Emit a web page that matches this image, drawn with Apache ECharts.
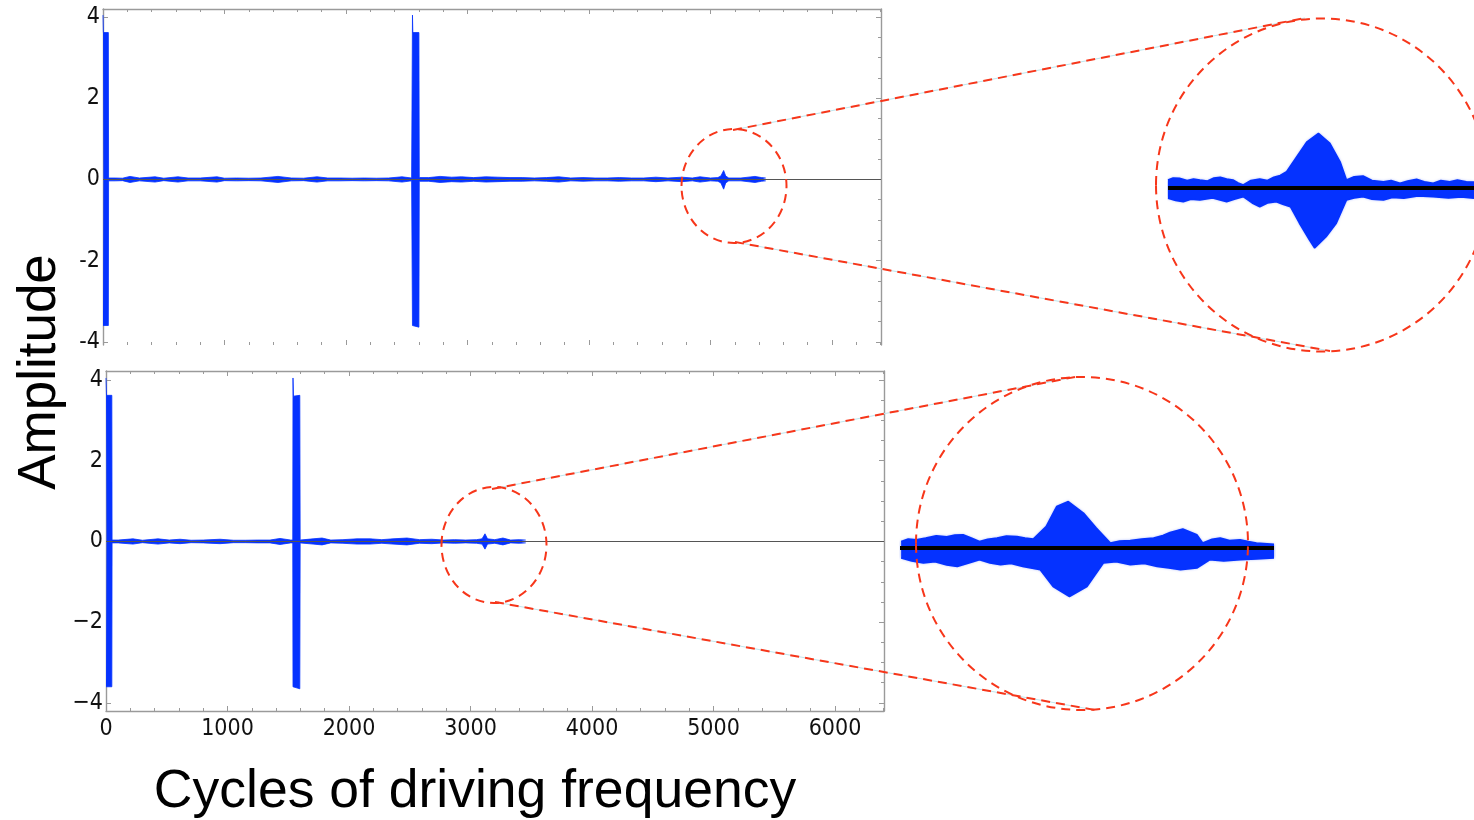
<!DOCTYPE html>
<html>
<head>
<meta charset="utf-8">
<script src="https://cdn.jsdelivr.net/npm/echarts@6/dist/echarts.min.js"></script>
<style>
  html, body { margin: 0; padding: 0; background: #fff; }
  #chart { width: 1474px; height: 820px; }
</style>
</head>
<body>
<div id="chart"></div>
<script>
// ---------------- data ----------------
const xTickLabels = [0, 1000, 2000, 3000, 4000, 5000, 6000];
const yTickLabels = [-4, -2, 0, 2, 4];

// Upper panel: envelope of the recorded amplitude (cycles -> max / min)
const runACycles = [0, 3, 44, 46, 100, 160, 222, 300, 428, 500, 617, 700, 800, 938,
  1000, 1100, 1200, 1300, 1440, 1550, 1650, 1761, 1850, 1950,
  2050, 2150, 2250, 2350, 2461, 2540, 2545, 2547, 2550, 2600,
  2603, 2680, 2774, 2870, 2950, 3050, 3150, 3250, 3350, 3450,
  3550, 3650, 3750, 3850, 3950, 4050, 4150, 4250, 4350, 4450,
  4550, 4650, 4765, 4850, 4913, 5000, 5060, 5085, 5108, 5125,
  5150, 5250, 5366, 5420, 5455];
const runAMax = [4.05, 3.62, 3.62, 0.035, 0.035, 0.03, 0.075, 0.035, 0.065, 0.03, 0.065, 0.035, 0.035, 0.065,
  0.03, 0.035, 0.03, 0.035, 0.075, 0.035, 0.03, 0.065, 0.035, 0.035,
  0.03, 0.035, 0.03, 0.035, 0.065, 0.035, 0.035, 4.05, 3.62, 3.62,
  0.045, 0.045, 0.075, 0.055, 0.065, 0.045, 0.065, 0.055, 0.045, 0.045,
  0.035, 0.045, 0.065, 0.035, 0.045, 0.035, 0.035, 0.045, 0.035, 0.035,
  0.055, 0.035, 0.055, 0.035, 0.065, 0.035, 0.045, 0.085, 0.22, 0.085,
  0.035, 0.035, 0.075, 0.045, 0.035];
const runAMin = [-3.6, -3.6, -3.6, -0.035, -0.035, -0.03, -0.075, -0.035, -0.065, -0.03, -0.065, -0.035, -0.035, -0.065,
  -0.03, -0.035, -0.03, -0.035, -0.075, -0.035, -0.03, -0.065, -0.035, -0.035,
  -0.03, -0.035, -0.03, -0.035, -0.065, -0.035, -0.035, -3.6, -3.6, -3.64,
  -0.045, -0.045, -0.075, -0.055, -0.065, -0.045, -0.065, -0.055, -0.045, -0.045,
  -0.035, -0.045, -0.065, -0.035, -0.045, -0.035, -0.035, -0.045, -0.035, -0.035,
  -0.055, -0.035, -0.055, -0.035, -0.065, -0.035, -0.045, -0.085, -0.24, -0.085,
  -0.035, -0.035, -0.075, -0.045, -0.035];

// Lower panel
const runBCycles = [0, 4, 48, 50, 100, 222, 300, 428, 520, 609, 700, 800, 938, 1050,
  1150, 1250, 1350, 1432, 1520, 1537, 1539, 1543, 1595, 1598,
  1704, 1778, 1850, 1950, 2066, 2173, 2270, 2362, 2477, 2580,
  2680, 2780, 2870, 2960, 3050, 3095, 3119, 3140, 3200, 3267,
  3330, 3400, 3455];
const runBMax = [4.05, 3.62, 3.62, 0.035, 0.035, 0.065, 0.03, 0.065, 0.035, 0.055, 0.03, 0.035, 0.055, 0.03,
  0.03, 0.035, 0.035, 0.075, 0.035, 0.035, 4.05, 3.60, 3.62, 0.035,
  0.065, 0.085, 0.035, 0.045, 0.065, 0.065, 0.045, 0.065, 0.085, 0.045,
  0.055, 0.035, 0.045, 0.035, 0.045, 0.065, 0.19, 0.065, 0.045, 0.085,
  0.035, 0.045, 0.035];
const runBMin = [-3.6, -3.6, -3.6, -0.035, -0.035, -0.065, -0.03, -0.065, -0.035, -0.055, -0.03, -0.035, -0.055, -0.03,
  -0.03, -0.035, -0.035, -0.075, -0.035, -0.035, -3.6, -3.6, -3.65, -0.035,
  -0.065, -0.085, -0.035, -0.045, -0.065, -0.065, -0.045, -0.065, -0.085, -0.045,
  -0.055, -0.035, -0.045, -0.035, -0.045, -0.065, -0.19, -0.065, -0.045, -0.085,
  -0.035, -0.045, -0.035];

// Magnified views of the small wave packets, [cycle, amplitude]
const detailAMax = [[4990, 0.032], [4994, 0.04], [4999, 0.039], [5005, 0.03], [5010, 0.036], [5015, 0.032],
  [5021, 0.028], [5026, 0.04], [5031, 0.043], [5036, 0.036], [5041, 0.032], [5045, 0.02], [5049, 0.012],
  [5055, 0.03], [5062, 0.036], [5068, 0.03], [5073, 0.043], [5078, 0.05], [5083, 0.065], [5091, 0.125],
  [5099, 0.185], [5108, 0.219], [5117, 0.179], [5125, 0.105], [5130, 0.032], [5136, 0.045], [5143, 0.048],
  [5150, 0.03], [5159, 0.025], [5165, 0.03], [5172, 0.019], [5178, 0.028], [5185, 0.035], [5191, 0.025],
  [5198, 0.019], [5204, 0.03], [5211, 0.025], [5217, 0.032], [5224, 0.025], [5230, 0.024]];
const detailAMin = [[4990, -0.041], [4996, -0.05], [5002, -0.055], [5008, -0.045], [5015, -0.048], [5025, -0.04],
  [5036, -0.055], [5042, -0.045], [5049, -0.035], [5056, -0.06], [5062, -0.075], [5068, -0.06], [5075, -0.055],
  [5080, -0.065], [5086, -0.075], [5093, -0.14], [5101, -0.208], [5105, -0.24], [5114, -0.195], [5122, -0.141],
  [5130, -0.048], [5136, -0.04], [5143, -0.035], [5150, -0.045], [5159, -0.048], [5166, -0.038], [5175, -0.041],
  [5186, -0.032], [5198, -0.035], [5210, -0.04], [5220, -0.036], [5230, -0.041]];
const detailBMax = [[2976, 0.026], [2982, 0.036], [2989, 0.033], [2997, 0.04], [3006, 0.049], [3015, 0.045],
  [3022, 0.052], [3029, 0.053], [3036, 0.04], [3043, 0.026], [3050, 0.035], [3058, 0.04], [3066, 0.048],
  [3075, 0.046], [3082, 0.04], [3089, 0.036], [3100, 0.086], [3109, 0.166], [3119, 0.186], [3132, 0.14],
  [3143, 0.08], [3155, 0.02], [3163, 0.028], [3172, 0.03], [3182, 0.036], [3192, 0.04], [3200, 0.05],
  [3206, 0.062], [3217, 0.076], [3229, 0.053], [3234, 0.02], [3242, 0.035], [3249, 0.04], [3257, 0.03],
  [3266, 0.033], [3273, 0.026], [3280, 0.02], [3295, 0.015]];
const detailBMin = [[2976, -0.04], [2985, -0.052], [2995, -0.06], [3005, -0.055], [3015, -0.068], [3024, -0.074],
  [3034, -0.06], [3043, -0.047], [3052, -0.06], [3061, -0.067], [3070, -0.062], [3080, -0.074], [3095, -0.087],
  [3106, -0.154], [3120, -0.194], [3135, -0.154], [3149, -0.06], [3160, -0.055], [3172, -0.067], [3184, -0.062],
  [3195, -0.074], [3205, -0.08], [3215, -0.087], [3229, -0.08], [3240, -0.047], [3252, -0.052], [3266, -0.047],
  [3280, -0.044], [3295, -0.04]];

// ---------------- styling ----------------
const BLUE = '#0532ff';
const FRAME = '#9a9a9a';
const RED = '#f7361a';
const LABEL_FONT = '"Liberation Sans Narrow", "DejaVu Sans Condensed", "Liberation Sans", sans-serif';
const TITLE_FONT = '"Liberation Sans", Arial, sans-serif';
const X_MAX = 6403;

const zip = (xs, ys) => xs.map((x, i) => [x, ys[i]]);

const xMinorTicks = [];
for (let v = 200; v < X_MAX; v += 200) if (v % 1000 !== 0) xMinorTicks.push(v);
const yMinorTicks = [];
for (let v = -4; v <= 4; v += 0.5) if (v % 2 !== 0) yMinorTicks.push(v);

const xAxes = [];
const yAxes = [];

function xAxisDef(gi, position, ticks, len, lineShow, labels) {
  xAxes.push({
    type: 'value', gridIndex: gi, position, min: 0, max: X_MAX,
    axisLine: { show: lineShow, onZero: false, lineStyle: { color: FRAME, width: 1.4 } },
    axisTick: { show: true, inside: true, length: len, customValues: ticks, lineStyle: { color: FRAME, width: 1 } },
    axisLabel: { show: labels, customValues: ticks, margin: 7, color: '#111', fontSize: 23, fontFamily: LABEL_FONT,
      formatter: v => String(v) },
    splitLine: { show: false }
  });
  return xAxes.length - 1;
}
function yAxisDef(gi, position, min, max, ticks, len, lineShow, labels, minus) {
  yAxes.push({
    type: 'value', gridIndex: gi, position, min, max,
    axisLine: { show: lineShow, onZero: false, lineStyle: { color: FRAME, width: 1.4 } },
    axisTick: { show: true, inside: true, length: len, customValues: ticks, lineStyle: { color: FRAME, width: 1 } },
    axisLabel: { show: labels, customValues: ticks, margin: 3, color: '#111', fontSize: 23, fontFamily: LABEL_FONT,
      formatter: v => (v < 0 ? minus + String(-v) : String(v)) },
    splitLine: { show: false }
  });
  return yAxes.length - 1;
}

// framed panel: ticks on every side, labels on left (and bottom when asked)
function panelAxes(gi, yMin, yMax, showBottom, showXLabels, minus) {
  const xi = xAxisDef(gi, 'bottom', xTickLabels, 5, showBottom, showXLabels);
  xAxisDef(gi, 'bottom', xMinorTicks, 3, false, false);
  xAxisDef(gi, 'top', xTickLabels, 5, true, false);
  xAxisDef(gi, 'top', xMinorTicks, 3, false, false);
  const yi = yAxisDef(gi, 'left', yMin, yMax, yTickLabels, 5, true, true, minus);
  yAxisDef(gi, 'left', yMin, yMax, yMinorTicks, 3, false, false, minus);
  yAxisDef(gi, 'right', yMin, yMax, yTickLabels, 5, true, false, minus);
  yAxisDef(gi, 'right', yMin, yMax, yMinorTicks, 3, false, false, minus);
  return { xi, yi };
}

function hiddenAxes(gi, xMin, xMax, yMin, yMax) {
  xAxes.push({ type: 'value', gridIndex: gi, min: xMin, max: xMax, show: false });
  yAxes.push({ type: 'value', gridIndex: gi, min: yMin, max: yMax, show: false });
  return { xi: xAxes.length - 1, yi: yAxes.length - 1 };
}

function envelope(name, data, ax, lineW, soft) {
  const area = { color: BLUE, opacity: 1, origin: 'auto' };
  if (soft) { area.shadowBlur = 3; area.shadowColor = 'rgba(5,50,255,0.55)'; }
  return {
    name, type: 'line', data, xAxisIndex: ax.xi, yAxisIndex: ax.yi,
    symbol: 'none', animation: false, silent: true, z: 2,
    lineStyle: { color: BLUE, width: lineW },
    areaStyle: area
  };
}
function zeroLine(color, width) {
  return {
    silent: true, animation: false, symbol: ['none', 'none'],
    label: { show: false },
    lineStyle: { color, width, type: 'solid' },
    data: [{ yAxis: 0 }]
  };
}

const grids = [
  { left: 103, top: 9, width: 778, height: 336 },
  { left: 106, top: 371, width: 778, height: 340 },
  { left: 1168, top: 13, width: 306, height: 350 },
  { left: 900, top: 373, width: 374, height: 350 }
];

const axA = panelAxes(0, -4.08, 4.2, false, false, '-');
const axB = panelAxes(1, -4.2, 4.223, true, true, '\u2212');
const axDA = hiddenAxes(2, 4990, 5230, -0.7, 0.7);
const axDB = hiddenAxes(3, 2975, 3295, -0.7, 0.7);

const series = [
  envelope('A max', zip(runACycles, runAMax), axA, 0.8, false),
  Object.assign(envelope('A min', zip(runACycles, runAMin), axA, 0.8, false), { markLine: zeroLine('#555', 1.2) }),
  envelope('B max', zip(runBCycles, runBMax), axB, 0.8, false),
  Object.assign(envelope('B min', zip(runBCycles, runBMin), axB, 0.8, false), { markLine: zeroLine('#555', 1.2) }),
  envelope('A detail max', detailAMax, axDA, 1.5, true),
  Object.assign(envelope('A detail min', detailAMin, axDA, 1.5, true), { markLine: zeroLine('#000', 4) }),
  envelope('B detail max', detailBMax, axDB, 1.5, true),
  Object.assign(envelope('B detail min', detailBMin, axDB, 1.5, true), { markLine: zeroLine('#000', 4) })
];

// zoom call-outs: dashed circles and connectors
function dashedLine(x1, y1, x2, y2) {
  return [
    { type: 'line', z: 99, silent: true, shape: { x1, y1, x2, y2 }, style: { stroke: '#bfe6ee', lineWidth: 1.2 } },
    { type: 'line', z: 100, silent: true, shape: { x1, y1, x2, y2 }, style: { stroke: RED, lineWidth: 2, lineDash: [9, 6] } }
  ];
}
function dashedRing(cx, cy, rx, ry) {
  return { type: 'ellipse', z: 100, silent: true, shape: { cx, cy, rx, ry },
    style: { fill: null, stroke: RED, lineWidth: 2, lineDash: [9, 6] } };
}

const graphic = [
  dashedRing(734, 186, 52.5, 57),
  dashedRing(494, 545, 52.5, 58),
  dashedRing(1322, 185, 166, 166.5),
  dashedRing(1082, 543.5, 166, 166.5),
  ...dashedLine(733, 130, 1305, 18),
  ...dashedLine(735, 242, 1330, 351),
  ...dashedLine(492, 489, 1075, 377),
  ...dashedLine(495, 602, 1095, 710),
  { type: 'text', z: 100, x: 40, y: 372, rotation: Math.PI / 2,
    style: { text: 'Amplitude', fontSize: 53, fontFamily: TITLE_FONT, fill: '#000', align: 'center', verticalAlign: 'middle' } },
  { type: 'text', z: 100, x: 475, y: 792,
    style: { text: 'Cycles of driving frequency', fontSize: 53.5, fontFamily: TITLE_FONT, fill: '#000', align: 'center', verticalAlign: 'middle' } }
];

const chart = echarts.init(document.getElementById('chart'), null, { renderer: 'canvas' });
chart.setOption({
  animation: false,
  backgroundColor: '#fff',
  grid: grids,
  xAxis: xAxes,
  yAxis: yAxes,
  series,
  graphic
});
</script>
</body>
</html>
